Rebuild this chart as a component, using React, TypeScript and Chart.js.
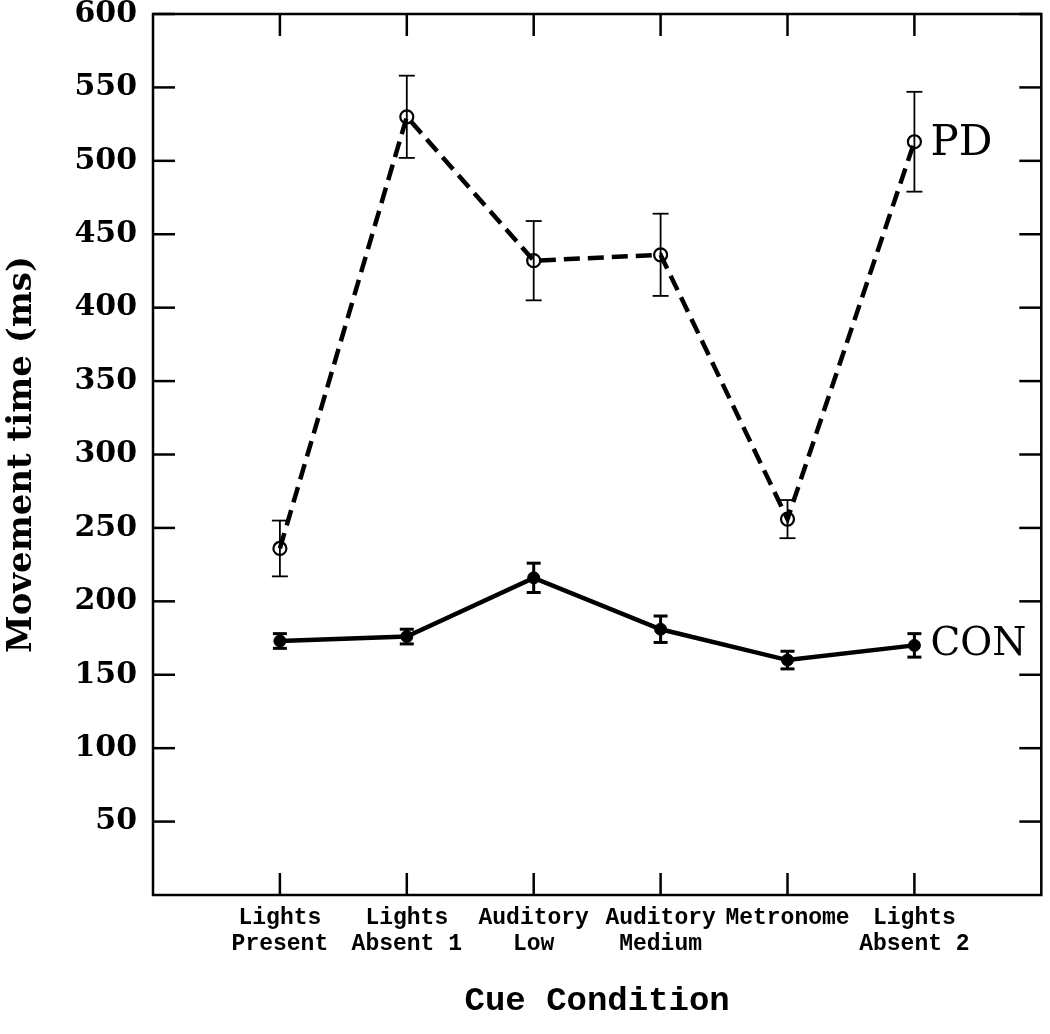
import React, { useEffect, useRef } from "react";
import { Chart, registerables } from "chart.js";

Chart.register(...registerables);

// ---- Data ----
const categoryLabels: (string | string[])[] = [
  ["Lights", "Present"],
  ["Lights", "Absent 1"],
  ["Auditory", "Low"],
  ["Auditory", "Medium"],
  "Metronome",
  ["Lights", "Absent 2"],
];
const categoryPositions = [1, 2, 3, 4, 5, 6];

const pdMeans = [236, 530, 432, 436, 256, 513];
const pdErrors = [19, 28, 27, 28, 13, 34];

const conMeans = [173, 176, 216, 181, 160, 170];
const conErrors = [5, 5, 10, 9, 6, 8];

const yTickValues = [50, 100, 150, 200, 250, 300, 350, 400, 450, 500, 550, 600];
const seriesNames = ["PD", "CON"];

const W = 1050;
const H = 1034;

const framePlugin = {
  id: "frameAndBars",
  afterDatasetsDraw(chart: any) {
    const { ctx, chartArea, scales } = chart;
    const { left, right, top, bottom } = chartArea;
    const x = scales.x;
    const y = scales.y;
    const line = (x1: number, y1: number, x2: number, y2: number) => {
      ctx.beginPath();
      ctx.moveTo(x1, y1);
      ctx.lineTo(x2, y2);
      ctx.stroke();
    };
    ctx.save();
    ctx.strokeStyle = "#000";
    ctx.setLineDash([]);
    // frame
    ctx.lineWidth = 2.5;
    ctx.strokeRect(left, top, right - left, bottom - top);
    // inward tick marks
    const tl = 22;
    yTickValues.forEach((v) => {
      const py = y.getPixelForValue(v);
      line(left, py, left + tl, py);
      line(right, py, right - tl, py);
    });
    categoryPositions.forEach((v) => {
      const px = x.getPixelForValue(v);
      line(px, bottom, px, bottom - tl);
      line(px, top, px, top + tl);
    });
    // error bars
    const drawErr = (means: number[], errs: number[], lw: number, cap: number) => {
      ctx.lineWidth = lw;
      means.forEach((m, i) => {
        const px = x.getPixelForValue(categoryPositions[i]);
        const pHi = y.getPixelForValue(m + errs[i]);
        const pLo = y.getPixelForValue(m - errs[i]);
        line(px, pHi, px, pLo);
        line(px - cap, pHi, px + cap, pHi);
        line(px - cap, pLo, px + cap, pLo);
      });
    };
    drawErr(pdMeans, pdErrors, 1.8, 8);
    drawErr(conMeans, conErrors, 3, 7);
    // series labels
    ctx.fillStyle = "#000";
    ctx.textAlign = "left";
    ctx.textBaseline = "middle";
    const last = categoryPositions.length - 1;
    const lx = x.getPixelForValue(categoryPositions[last]) + 16;
    ctx.font = "42px 'DejaVu Serif'";
    ctx.fillText(seriesNames[0], lx, y.getPixelForValue(pdMeans[last]) + 2);
    ctx.font = "39px 'DejaVu Serif'";
    ctx.fillText(seriesNames[1], lx, y.getPixelForValue(conMeans[last]) - 1);
    ctx.restore();
  },
};

export default function App() {
  const ref = useRef<HTMLCanvasElement | null>(null);
  useEffect(() => {
    if (!ref.current) return;
    const chart = new Chart(ref.current, {
      type: "line",
      data: {
        datasets: [
          {
            label: seriesNames[0],
            data: pdMeans.map((v, i) => ({ x: categoryPositions[i], y: v })),
            borderColor: "#000",
            borderWidth: 4.5,
            borderDash: [16, 8],
            pointRadius: 6.5,
            pointBorderWidth: 2.2,
            pointBorderColor: "#000",
            pointBackgroundColor: "rgba(255,255,255,0)",
            tension: 0,
          },
          {
            label: seriesNames[1],
            data: conMeans.map((v, i) => ({ x: categoryPositions[i], y: v })),
            borderColor: "#000",
            borderWidth: 4.5,
            pointRadius: 6,
            pointBorderWidth: 1,
            pointBorderColor: "#000",
            pointBackgroundColor: "#000",
            tension: 0,
          },
        ],
      },
      options: {
        responsive: false,
        animation: false,
        devicePixelRatio: 1,
        layout: { padding: { top: 14, right: 4, left: 0, bottom: 0 } },
        plugins: {
          legend: { display: false },
          tooltip: { enabled: false },
        },
        scales: {
          x: {
            type: "linear",
            min: 0,
            max: 7,
            grid: { display: false, drawTicks: false },
            border: { display: false },
            afterBuildTicks: (scale: any) => {
              scale.ticks = categoryPositions.map((v) => ({ value: v }));
            },
            afterFit: (scale: any) => {
              scale.height = H - 895;
              scale.paddingLeft = 0;
              scale.paddingRight = 0;
            },
            ticks: {
              autoSkip: false,
              maxRotation: 0,
              minRotation: 0,
              padding: 10,
              color: "#000",
              font: { family: "'Liberation Mono'", size: 23, weight: "bold", lineHeight: 1.13 },
              callback: (_v: any, i: number) => categoryLabels[i],
            },
            title: {
              display: true,
              text: "Cue Condition",
              color: "#000",
              font: { family: "'Liberation Mono'", size: 34, weight: "bold", lineHeight: 1.2 },
              padding: { top: 0, bottom: 12 },
            },
          },
          y: {
            type: "linear",
            min: 0,
            max: 600,
            grid: { display: false, drawTicks: false },
            border: { display: false },
            afterBuildTicks: (scale: any) => {
              scale.ticks = yTickValues.map((v) => ({ value: v }));
            },
            afterFit: (scale: any) => {
              scale.width = 153;
              scale.paddingTop = 0;
              scale.paddingBottom = 0;
            },
            ticks: {
              padding: 16,
              color: "#000",
              font: { family: "'DejaVu Serif'", size: 30, weight: "bold", lineHeight: 1 },
              callback: (v: any) => String(v),
            },
            title: {
              display: true,
              text: "Movement time (ms)",
              color: "#000",
              font: { family: "'DejaVu Serif'", size: 34, weight: "bold", lineHeight: 1.2 },
              padding: { top: 2, bottom: 0 },
            },
          },
        },
      },
      plugins: [framePlugin],
    });
    return () => chart.destroy();
  }, []);
  return (
    <div style={{ position: "fixed", left: 0, top: 0, width: W, height: H, background: "#fff" }}>
      <canvas ref={ref} width={W} height={H} style={{ display: "block", width: W, height: H }} />
    </div>
  );
}
